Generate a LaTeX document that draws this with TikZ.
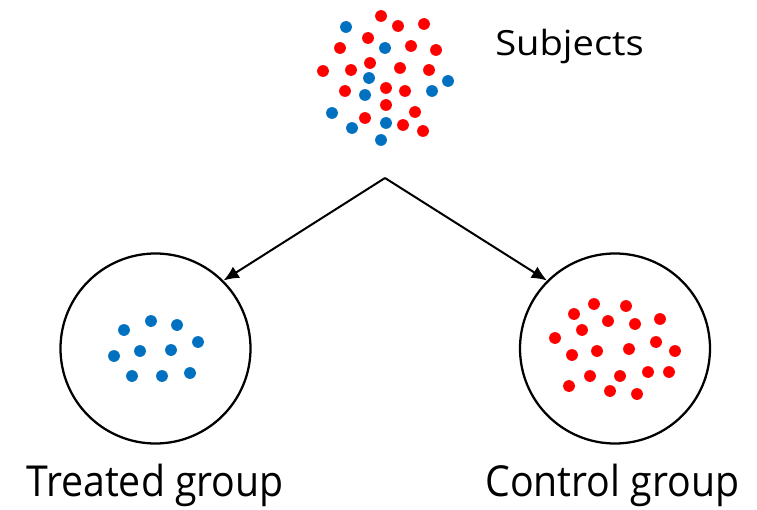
\documentclass[tikz,border=0pt]{standalone}
\usepackage{fontspec}
\setmainfont{Open Sans}
\usetikzlibrary{arrows.meta}
\definecolor{dotred}{HTML}{FF0000}
\definecolor{dotblue}{HTML}{0070C0}
\tikzset{
  group/.style={circle,draw=black,line width=1.7pt,minimum size=142.5pt,inner sep=0pt},
  reddot/.style={fill=dotred},
  bluedot/.style={fill=dotblue},
  arr/.style={line width=1.5pt,-{Latex[length=11.5pt,width=10pt]}},
  lbl/.style={inner sep=0pt,anchor=base west}
}
\begin{document}
\begin{tikzpicture}[x=0.75pt,y=-0.75pt]
\useasboundingbox (0,0) rectangle (757,510);
% subjects cluster
\foreach \p in {(381,16),(398,26),(424,24),(368,38),(340,48),(411,46),(436,50),(370,63),(323,71),(351,70),(400,68),(429,70),(345,91),(386,88),(405,91),(386,105),(415,112),(365,118),(403,125),(423,131)}
  \fill[reddot] \p circle (5.9);
\foreach \p in {(346,27),(385,48),(369,78),(448,81),(365,95),(432,91),(332,113),(386,123),(352,128),(381,140)}
  \fill[bluedot] \p circle (5.9);
\node[lbl,font=\fontsize{26pt}{31pt}\selectfont] (subj) at (495,56) {\scalebox{1.1}[1]{Subjects}};
% groups
\node[group] (L) at (155.5,348.5) {};
\node[group] (R) at (615,348.5) {};
\foreach \p in {(124,330),(151,321),(177,325),(198,342),(114,356),(140,351),(171,350),(132,376),(162,376),(190,373)}
  \fill[bluedot] \p circle (5.9);
\foreach \p in {(594,304),(626,306),(574,314),(608,321),(635,324),(660,319),(582,330),(555,338),(656,342),(572,355),(597,351),(629,349),(675,351),(590,376),(620,376),(648,372),(669,372),(569,386),(610,391),(637,394)}
  \fill[reddot] \p circle (5.9);
% arrows
\coordinate (apex) at (385,178);
\draw[arr] (apex) -- (L.45);
\draw[arr] (apex) -- (R.135);
% labels
\node[lbl,font=\fontsize{32pt}{38pt}\selectfont] (tl) at (26,496) {\scalebox{0.92}[1]{Treated group}};
\node[lbl,font=\fontsize{32pt}{38pt}\selectfont] (cl) at (485,496) {\scalebox{0.92}[1]{Control group}};
\end{tikzpicture}
\end{document}
